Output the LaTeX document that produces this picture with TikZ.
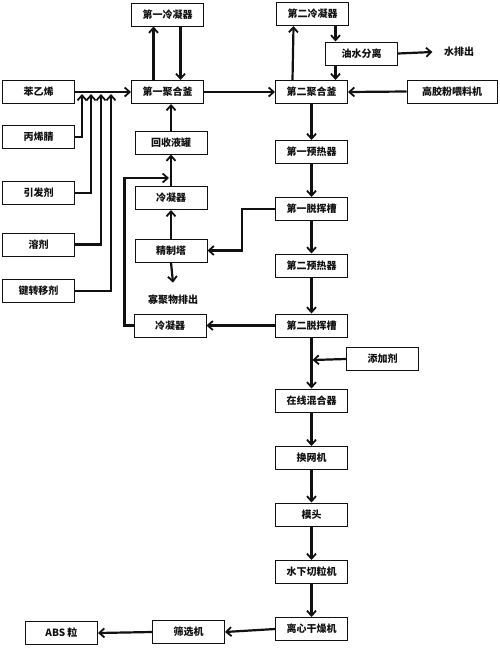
\documentclass[tikz,border=0pt]{standalone}
\usepackage{fontspec}
\setmainfont{Noto Sans CJK SC}
\usepackage{tikz}
\usetikzlibrary{arrows.meta}
\definecolor{ink}{HTML}{111111}
\tikzset{
  box/.style={draw=ink, line width=1pt, minimum width=72pt, minimum height=23pt, inner sep=1pt,
    font=\bfseries\fontsize{10}{12}\selectfont, text=ink},
  flow/.style={draw=ink, line width=2.2pt, -{Straight Barb[length=5pt,width=9pt,line width=1.8pt]}},
  lab/.style={font=\bfseries\fontsize{10}{12}\selectfont, text=ink}
}

\begin{document}
\begin{tikzpicture}[x=1pt,y=-1pt]
  \useasboundingbox (0,0) rectangle (500,648);

  % raw materials
  \node[box] (ben) at (38.5,92)  {苯乙烯};
  \node[box] (bxj) at (38.5,137) {丙烯腈};
  \node[box] (yfj) at (38.5,193) {引发剂};
  \node[box] (rj)  at (38.5,244.5) {溶剂};
  \node[box] (lzy) at (38.5,291) {键转移剂};

  % first reactor and recovery
  \node[box] (c1) at (167.5,14.5) {第一冷凝器};
  \node[box] (k1) at (167.5,92) {第一聚合釜};
  \node[box] (hs) at (171,142.5) {回收液罐};
  \node[box] (lq1) at (171,198) {冷凝器};
  \node[box] (jz) at (171,250.5) {精制塔};
  \node[lab] (gjw) at (173,300) {寡聚物排出};
  \node[box] (lq2) at (170,325.5) {冷凝器};

  % second reactor
  \node[box] (c2) at (312.5,14) {第二冷凝器};
  \node[box] (ys) at (361.5,53.5) {油水分离};
  \node[lab] (water) at (459,52) {水排出};
  \node[box] (k2) at (311.5,92) {第二聚合釜};
  \node[box, minimum width=90pt] (gj) at (452,91.5) {高胶粉喂料机};

  % main line
  \node[box] (yr1) at (311.5,152) {第一预热器};
  \node[box] (tw1) at (311.5,209) {第一脱挥槽};
  \node[box] (yr2) at (311.5,265.5) {第二预热器};
  \node[box] (tw2) at (311.5,325.5) {第二脱挥槽};
  \node[box] (tj)  at (382.5,359) {添加剂};
  \node[box] (hh)  at (311.5,400.5) {在线混合器};
  \node[box] (hw)  at (311.5,458) {换网机};
  \node[box] (mt)  at (311.5,514.5) {模头};
  \node[box] (sq)  at (311.5,572) {水下切粒机};
  \node[box] (lx)  at (311.5,629) {离心干燥机};
  \node[box] (sx)  at (188.5,632) {筛选机};
  \node[box] (abs) at (61.5,633) {ABS 粒};

  \coordinate (j1) at (82,94);
  \coordinate (j2) at (91,94);
  \coordinate (j3) at (101,94);
  \coordinate (j4) at (111,94);
  \coordinate (m) at (169,178);
  \coordinate (n) at (312.5,360);

  % feeds
  \draw[flow] (ben.east) -- (k1.west);
  \draw[flow] (bxj.east) -| (j1);
  \draw[flow] (yfj.east) -| (j2);
  \draw[flow] (rj.east) -| (j3);
  \draw[flow] (lzy.east) -| (j4);

  % first reactor loop
  \draw[flow] ([xshift=-14]k1.north) -- ([xshift=-14]c1.south);
  \draw[flow] ([xshift=13]c1.south) -- ([xshift=13]k1.north);
  \draw[flow] (k1.east) -- (k2.west);
  \draw[flow] (hs.north) -- (hs.north |- k1.south);
  \draw[flow] (lq1.north) -- (hs.south);
  \draw[flow] (jz.north) -- (lq1.south);
  \draw[flow] (jz.south) -- ([yshift=9]gjw.north);
  \draw[flow] (tw1.west) -- ++(-33,0) |- (jz.east);
  \draw[flow] (tw2.west) -- (lq2.east);
  \draw[flow] (lq2.west) -- ++(-9,0) |- (m);

  % second reactor loop
  \draw[flow] ([xshift=-19]k2.north) -- ([xshift=-19]c2.south);
  \draw[flow] ([xshift=23]c2.south) -- ([xshift=23]c2.south |- ys.north);
  \draw[flow] ([xshift=-26]ys.south) -- ([xshift=-26]ys.south |- k2.north);
  \draw[flow] (ys.east) -- ([xshift=-8]water.west);
  \draw[flow] (gj.west) -- (k2.east);

  % main line
  \draw[flow] (k2.south) -- (yr1.north);
  \draw[flow] (yr1.south) -- (tw1.north);
  \draw[flow] (tw1.south) -- (yr2.north);
  \draw[flow] (yr2.south) -- (tw2.north);
  \draw[flow] (tw2.south) -- (hh.north);
  \draw[flow] (tj.west) -- (n);
  \draw[flow] (hh.south) -- (hw.north);
  \draw[flow] (hw.south) -- (mt.north);
  \draw[flow] (mt.south) -- (sq.north);
  \draw[flow] (sq.south) -- (lx.north);
  \draw[flow] (lx.west) -- (sx.east);
  \draw[flow] (sx.west) -- (abs.east);
\end{tikzpicture}
\end{document}
